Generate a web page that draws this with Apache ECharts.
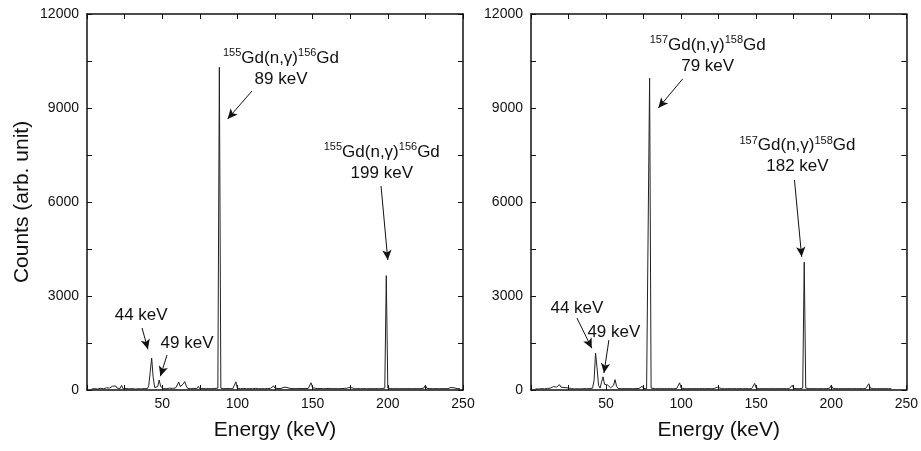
<!DOCTYPE html>
<html>
<head>
<meta charset="utf-8">
<script src="https://cdn.jsdelivr.net/npm/echarts@6/dist/echarts.min.js"></script>
<style>
html,body{margin:0;padding:0;background:#fff;}
#chart{width:921px;height:451px;}
</style>
</head>
<body>
<div id="chart"></div>
<script>
// ---- axis ticks ----
const xTicks = [0, 25, 50, 75, 100, 125, 150, 175, 200, 225, 250];
const xLabels = [50, 100, 150, 200, 250];
const yTicks = [0, 1500, 3000, 4500, 6000, 7500, 9000, 10500, 12000];
const yLabels = [0, 3000, 6000, 9000, 12000];

// ---- spectra [energy keV, counts] ----
const leftSpectrum = [
  [3,30],[5,45],[7,30],[9,55],[11,40],[13,70],[14,110],[15,60],[17,120],[18,70],[19,130],[20,60],
  [21,90],[22,50],[23,150],[24,40],[26,50],[28,35],[30,45],[32,30],[34,40],[36,35],[38,45],[40,40],
  [41,120],[42,560],[43,1020],[44,400],[45,80],[46,60],[47,110],[48,320],[49,110],[50,50],[51,45],
  [53,40],[55,60],[57,50],[58,110],[59,70],[60,160],[61,250],[62,110],[63,60],[64,190],[65,270],
  [66,130],[67,50],[69,40],[71,50],[73,40],[74,110],[75,40],[77,50],[79,40],[81,45],[83,40],[85,50],
  [87,60],[88,10300],[89,60],[90,50],[91,40],[93,50],[95,40],[97,45],[98,60],[99,260],[100,60],
  [102,40],[104,50],[106,40],[108,45],[110,40],[112,50],[114,40],[116,45],[118,40],[120,45],[122,50],
  [123,70],[124,130],[125,60],[127,45],[129,50],[131,90],[132,110],[133,80],[135,50],[137,45],[139,40],
  [141,50],[143,45],[145,50],[147,45],[148,60],[149,230],[150,70],[151,50],[153,45],[155,50],[157,40],
  [159,45],[161,50],[163,40],[165,45],[167,40],[169,45],[171,50],[173,60],[174,110],[175,90],[176,50],
  [178,40],[180,45],[182,40],[184,45],[186,40],[188,45],[190,40],[192,45],[194,40],[196,45],[198,60],
  [199,3650],[200,60],[202,45],[204,40],[206,45],[208,40],[210,45],[212,40],[214,45],[216,40],[218,45],
  [220,40],[222,45],[224,60],[225,150],[226,50],[228,45],[230,40],[232,45],[234,40],[236,45],[238,40],
  [240,45],[242,80],[243,110],[244,70],[246,45],[248,40]
];
const rightSpectrum = [
  [3,40],[5,30],[7,45],[9,35],[11,50],[13,60],[15,110],[16,60],[17,90],[18,70],[19,170],[20,90],
  [21,60],[22,80],[23,40],[24,70],[25,40],[27,45],[29,35],[31,40],[33,35],[35,45],[37,40],[39,45],
  [41,60],[42,300],[43,1180],[44,700],[45,150],[46,60],[47,250],[48,420],[49,180],[50,150],[51,160],
  [52,110],[53,70],[54,60],[55,150],[56,330],[57,120],[58,50],[60,40],[62,45],[64,40],[66,45],[68,40],
  [70,45],[72,50],[73,60],[74,120],[75,50],[77,45],[78,60],[79,9950],[80,60],[81,45],[83,40],[85,45],
  [87,40],[89,45],[91,40],[93,45],[95,40],[97,45],[98,60],[99,230],[100,60],[102,45],[104,40],[106,45],
  [108,40],[110,45],[112,40],[114,45],[116,40],[118,45],[120,40],[122,45],[123,60],[124,90],[125,50],
  [127,45],[129,40],[131,45],[133,40],[135,45],[137,40],[139,45],[141,40],[143,45],[145,40],[147,45],
  [148,60],[149,210],[150,60],[152,45],[154,40],[156,45],[158,40],[160,45],[162,40],[164,45],[166,40],
  [168,45],[170,40],[172,45],[173,60],[174,150],[175,50],[177,45],[179,40],[181,60],[182,4080],[183,60],
  [185,45],[187,40],[189,45],[191,40],[193,45],[195,40],[197,45],[199,60],[200,150],[201,55],[203,45],
  [205,40],[207,45],[209,40],[211,45],[213,40],[215,45],[217,40],[219,45],[221,40],[223,50],[224,70],
  [225,200],[226,60],[228,45],[230,40],[232,45],[234,40],[236,45],[238,40],[240,45]
];

// ---- annotations (data coordinates) ----
const leftNotes = [
  {text: '{sup|155}{t|Gd(n,γ)}{sup|156}{t|Gd}\n{t|89 keV}', at: [129, 10250]},
  {text: '{sup|155}{t|Gd(n,γ)}{sup|156}{t|Gd}\n{t|199 keV}', at: [196, 7250]},
  {text: '{s|44 keV}', at: [36, 2394]},
  {text: '{s|49 keV}', at: [66.5, 1500]}
];
const leftArrows = [
  [[109.7, 9543], [93.5, 8650]],
  [[195.5, 6511], [200, 4150]],
  [[36.6, 1979], [40.5, 1300]],
  [[53.2, 1117], [48.8, 440]]
];
const rightNotes = [
  {text: '{sup|157}{t|Gd(n,γ)}{sup|158}{t|Gd}\n{t|79 keV}', at: [117.7, 10680]},
  {text: '{sup|157}{t|Gd(n,γ)}{sup|158}{t|Gd}\n{t|182 keV}', at: [177.5, 7460]},
  {text: '{s|44 keV}', at: [30.6, 2617]},
  {text: '{s|49 keV}', at: [55.2, 1851]}
];
const rightArrows = [
  [[101, 9926], [84.8, 9000]],
  [[175.5, 6702], [180.3, 4250]],
  [[30.6, 2298], [40.5, 1330]],
  [[51.9, 1596], [48.6, 540]]
];

const FONT = 'Liberation Sans, Arial, sans-serif';
const rich = {
  t: {fontSize: 17, fontFamily: FONT, color: '#111', lineHeight: 21},
  sup: {fontSize: 11, fontFamily: FONT, color: '#111', verticalAlign: 'top', lineHeight: 21, padding: [0, 0, 7, 0]},
  s: {fontSize: 17, fontFamily: FONT, color: '#111'}
};

function xAxes(grid) {
  return [
    {type: 'value', gridIndex: grid, min: 0, max: 250, interval: 25, position: 'bottom',
     name: 'Energy (keV)', nameLocation: 'middle', nameGap: 30,
     nameTextStyle: {fontSize: 21, fontFamily: FONT, color: '#111'},
     axisLine: {show: true, onZero: false, lineStyle: {color: '#111', width: 1.5}},
     axisTick: {show: true, inside: true, length: 5, lineStyle: {color: '#111', width: 1}},
     axisLabel: {fontSize: 14, fontFamily: FONT, color: '#111', margin: 7,
       formatter: v => xLabels.indexOf(v) >= 0 ? String(v) : ''},
     splitLine: {show: false}},
    {type: 'value', gridIndex: grid, min: 0, max: 250, interval: 25, position: 'top',
     axisLine: {show: true, onZero: false, lineStyle: {color: '#111', width: 1.5}},
     axisTick: {show: true, inside: true, length: 5, lineStyle: {color: '#111', width: 1}},
     axisLabel: {show: false}, splitLine: {show: false}}
  ];
}
function yAxes(grid, withName) {
  return [
    {type: 'value', gridIndex: grid, min: 0, max: 12000, interval: 1500, position: 'left',
     name: withName ? 'Counts (arb. unit)' : '', nameLocation: 'middle', nameGap: 54,
     nameTextStyle: {fontSize: 21, fontFamily: FONT, color: '#111'},
     axisLine: {show: true, onZero: false, lineStyle: {color: '#111', width: 1.5}},
     axisTick: {show: true, inside: true, length: 5, lineStyle: {color: '#111', width: 1}},
     axisLabel: {fontSize: 14, fontFamily: FONT, color: '#111', margin: 8, showMinLabel: true, showMaxLabel: true,
       formatter: v => yLabels.indexOf(v) >= 0 ? String(v) : ''},
     splitLine: {show: false}},
    {type: 'value', gridIndex: grid, min: 0, max: 12000, interval: 1500, position: 'right',
     axisLine: {show: true, onZero: false, lineStyle: {color: '#111', width: 1.5}},
     axisTick: {show: true, inside: true, length: 5, lineStyle: {color: '#111', width: 1}},
     axisLabel: {show: false}, splitLine: {show: false}}
  ];
}

function spectrumSeries(data, xi, yi, notes, arrows) {
  return {
    type: 'line', xAxisIndex: xi, yAxisIndex: yi, data: data,
    showSymbol: false, symbol: 'none', smooth: false,
    lineStyle: {color: '#222', width: 1},
    markPoint: {
      symbol: 'circle', symbolSize: 1, itemStyle: {color: 'rgba(0,0,0,0)'},
      data: notes.map(n => ({coord: n.at, value: 0,
        label: {show: true, position: 'inside', align: 'center', verticalAlign: 'middle',
          formatter: n.text, rich: rich}}))
    },
    markLine: {
      silent: true, symbol: ['none', 'arrow'], symbolSize: [7, 10],
      lineStyle: {color: '#111', width: 1, type: 'solid'},
      label: {show: false},
      data: arrows.map(a => [{coord: a[0]}, {coord: a[1]}])
    }
  };
}

const chart = echarts.init(document.getElementById('chart'), null, {renderer: 'canvas'});
chart.setOption({
  animation: false,
  backgroundColor: '#fff',
  grid: [
    {left: 87, top: 14, width: 376, height: 376},
    {left: 531, top: 14, width: 376, height: 376}
  ],
  xAxis: [...xAxes(0), ...xAxes(1)],
  yAxis: [...yAxes(0, true), ...yAxes(1, false)],
  series: [
    spectrumSeries(leftSpectrum, 0, 0, leftNotes, leftArrows),
    spectrumSeries(rightSpectrum, 2, 2, rightNotes, rightArrows)
  ]
});
</script>
</body>
</html>
